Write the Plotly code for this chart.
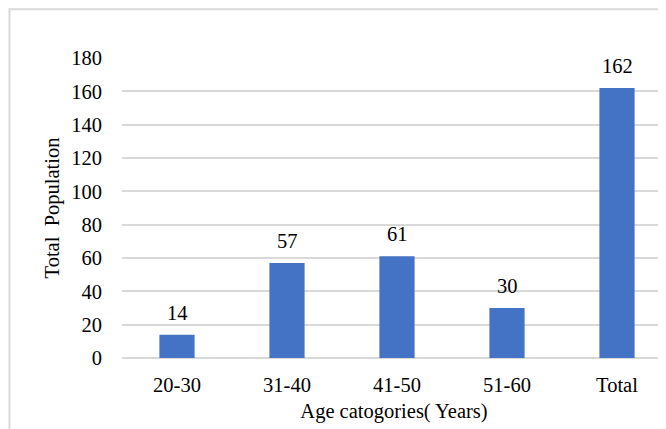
import plotly.graph_objects as go

categories = ["20-30", "31-40", "41-50", "51-60", "Total"]
population = [14, 57, 61, 30, 162]
y_ticks = [0, 20, 40, 60, 80, 100, 120, 140, 160, 180]

FONT = "Liberation Serif"
FS = 20.5
GRID = "#d9d9d9"

# page body has an 8px margin, so the figure is sized to fill the rest of the window
W, H = 658, 421
L, T, B = 114, 50.3, 70.7
PW, PH = W - L, H - T - B

fig = go.Figure()
fig.add_trace(go.Bar(
    x=categories, y=population,
    marker=dict(color="#4472C4", line=dict(width=0)),
    hoverinfo="x+y",
))

for c, v in zip(categories, population):
    fig.add_annotation(
        x=c, y=v, text=str(v), showarrow=False,
        yanchor="bottom", yshift=9,
        font=dict(family=FONT, size=FS, color="#000000"),
    )

fig.add_shape(
    type="rect", xref="paper", yref="paper",
    x0=(1.5 - L) / PW, x1=1.2, y0=-0.5, y1=1 + (T - 1.5) / PH,
    line=dict(color=GRID, width=2), fillcolor="rgba(0,0,0,0)", layer="below",
)

fig.update_layout(
    width=W, height=H,
    margin=dict(l=L, r=0, t=T, b=B, pad=0),
    paper_bgcolor="white", plot_bgcolor="white",
    font=dict(family=FONT, size=FS, color="#000000"),
    bargap=0.68,
    showlegend=False,
    xaxis=dict(
        type="category",
        range=[-0.5, -0.5 + PW / 110],
        showgrid=False, zeroline=False,
        showline=False,
        ticks="", ticklabelstandoff=12,
        tickfont=dict(family=FONT, size=FS),
        title=dict(text="Age catogories( Years)", standoff=9,
                   font=dict(family=FONT, size=FS)),
    ),
    yaxis=dict(
        range=[0, 180],
        tickvals=y_ticks,
        showgrid=True, gridcolor=GRID, gridwidth=1.5,
        zeroline=True, zerolinecolor=GRID, zerolinewidth=1.5,
        showline=False, ticks="", ticklabelstandoff=19,
        tickfont=dict(family=FONT, size=FS),
        title=dict(text="Total\u00a0 Population", standoff=6,
                   font=dict(family=FONT, size=FS)),
    ),
)

fig.write_html("out.html")
